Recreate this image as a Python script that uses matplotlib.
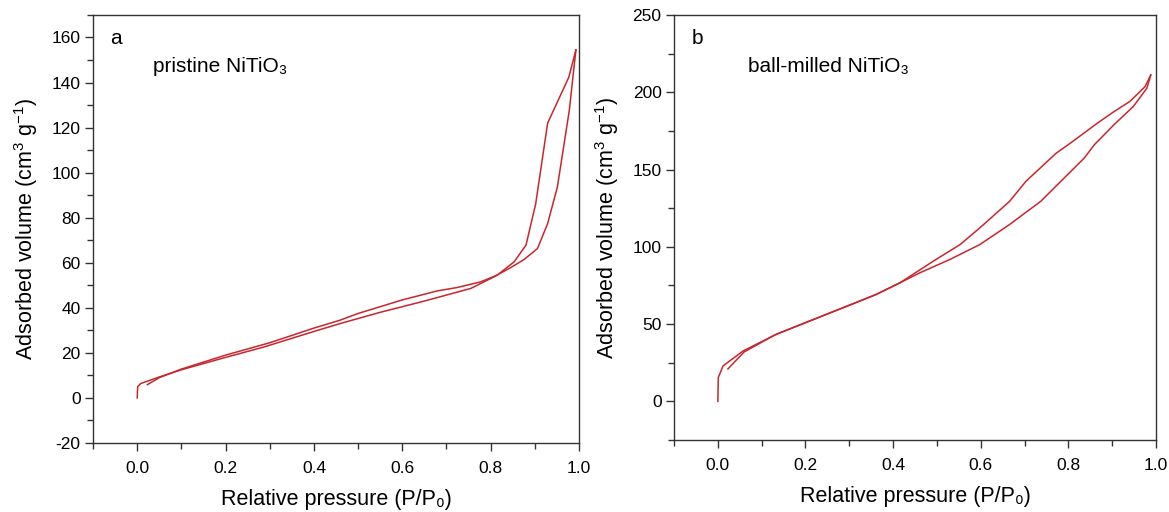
import matplotlib
matplotlib.use("Agg")
import matplotlib.pyplot as plt
from matplotlib.ticker import MultipleLocator

plt.rcParams['font.family'] = ['Liberation Sans', 'DejaVu Sans']
plt.rcParams['mathtext.fontset'] = 'custom'
plt.rcParams['mathtext.rm'] = 'Liberation Sans'
plt.rcParams['mathtext.it'] = 'Liberation Sans:italic'
plt.rcParams['axes.unicode_minus'] = False

# (a) pristine NiTiO3 - adsorption branch
a_ads_p = [0.0, 0.001, 0.008, 0.05, 0.1, 0.2, 0.285, 0.4, 0.459, 0.55, 0.65,
           0.755, 0.8, 0.845, 0.876, 0.906, 0.929, 0.951, 0.978, 0.993]
a_ads_v = [0.0, 5.0, 6.4, 9.3, 12.5, 18.0, 22.5, 29.5, 33.0, 38.0, 43.0,
           48.6, 53.0, 57.8, 61.5, 66.3, 77.4, 93.6, 127.6, 154.5]
# (a) desorption branch
a_des_p = [0.993, 0.977, 0.929, 0.902, 0.880, 0.853, 0.815, 0.777, 0.724,
           0.679, 0.6, 0.5, 0.459, 0.4, 0.3, 0.2, 0.1, 0.05, 0.023]
a_des_v = [154.5, 142.4, 122.0, 86.2, 67.8, 60.4, 54.5, 51.5, 49.0,
           47.5, 43.5, 37.5, 34.5, 31.0, 24.5, 19.0, 12.8, 9.0, 5.9]

# (b) ball-milled NiTiO3 - adsorption branch
b_ads_p = [0.0, 0.001, 0.012, 0.058, 0.134, 0.21, 0.286, 0.362, 0.416, 0.461,
           0.53, 0.598, 0.666, 0.737, 0.798, 0.836, 0.859, 0.904, 0.948, 0.979, 0.988]
b_ads_v = [0.0, 15.5, 23.0, 32.7, 43.5, 52.0, 60.6, 69.3, 76.8, 83.2,
           91.9, 101.5, 114.5, 129.5, 146.7, 157.4, 166.0, 179.0, 190.8, 202.6, 211.2]
# (b) desorption branch
b_des_p = [0.988, 0.975, 0.94, 0.904, 0.866, 0.804, 0.772, 0.703, 0.666, 0.598,
           0.553, 0.492, 0.416, 0.36, 0.28, 0.2, 0.13, 0.06, 0.023]
b_des_v = [211.2, 203.7, 194.0, 187.5, 180.0, 167.0, 160.6, 142.4, 129.5, 112.3,
           101.5, 90.8, 76.8, 69.0, 60.0, 51.0, 43.0, 32.0, 21.0]

red = '#c8262c'
fig = plt.figure(figsize=(11.69, 5.12), dpi=100)
ax1 = fig.add_axes([0.0796, 0.1348, 0.4157, 0.836])
ax2 = fig.add_axes([0.5766, 0.1406, 0.4123, 0.830])


def style(ax, ylim, ymaj, ymin):
    ax.set_xlim(-0.1, 1.0)
    ax.set_ylim(*ylim)
    ax.xaxis.set_major_locator(MultipleLocator(0.2))
    ax.xaxis.set_minor_locator(MultipleLocator(0.1))
    ax.yaxis.set_major_locator(MultipleLocator(ymaj))
    ax.yaxis.set_minor_locator(MultipleLocator(ymin))
    ax.tick_params(which='major', direction='out', length=6, width=1,
                   labelsize=12.5, color='#333333', pad=3)
    ax.tick_params(which='minor', direction='out', length=4, width=1,
                   color='#333333')
    ax.tick_params(axis='x', pad=7)
    for s in ax.spines.values():
        s.set_color('#333333')
        s.set_linewidth(1.0)
    ax.set_xlabel('Relative pressure (P/P₀)', fontsize=15.5, labelpad=9)
    ax.set_ylabel(r'Adsorbed volume (cm$^3$ g$^{-1}$)', fontsize=15.5, labelpad=8)


ax1.plot(a_ads_p, a_ads_v, color=red, lw=1.1)
ax1.plot(a_des_p, a_des_v, color=red, lw=1.1)
style(ax1, (-20, 170), 20, 10)
ax1.text(0.035, 0.946, 'a', transform=ax1.transAxes, fontsize=15, va='center')
ax1.text(0.123, 0.879, 'pristine NiTiO₃', transform=ax1.transAxes,
         fontsize=15, va='center')

ax2.plot(b_ads_p, b_ads_v, color=red, lw=1.1)
ax2.plot(b_des_p, b_des_v, color=red, lw=1.1)
style(ax2, (-25, 250), 50, 25)
ax2.text(0.037, 0.946, 'b', transform=ax2.transAxes, fontsize=15, va='center')
ax2.text(0.154, 0.878, 'ball-milled NiTiO₃', transform=ax2.transAxes,
         fontsize=15, va='center')

fig.savefig('out.png', dpi=100)
